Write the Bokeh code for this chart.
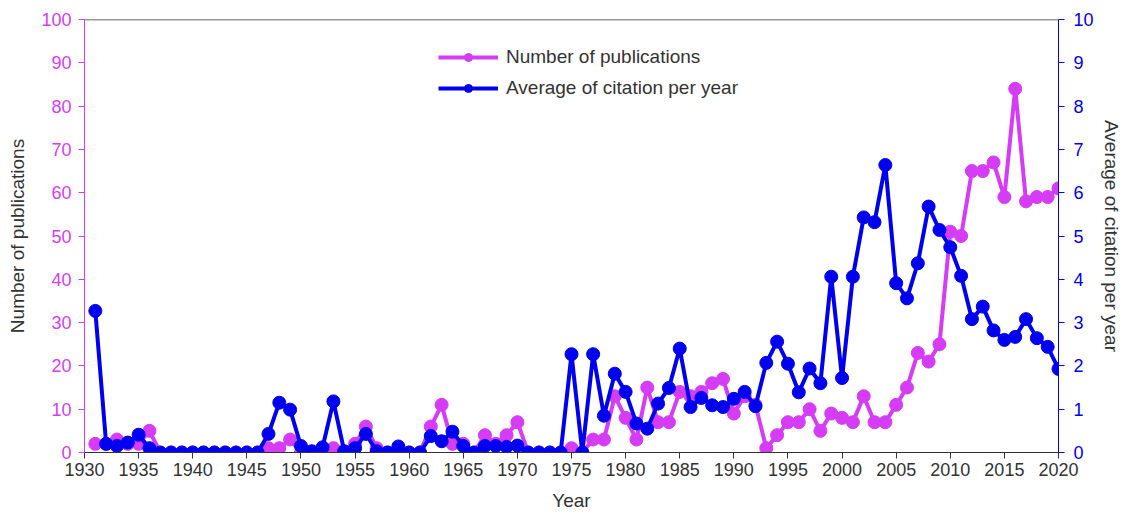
from bokeh.plotting import figure
from bokeh.models import Range1d, LinearAxis, FixedTicker, Legend, LegendItem, Span
from bokeh.embed import file_html
from bokeh.resources import INLINE

years = list(range(1931, 2021))
publications = [2, 2, 3, 2, 2, 5, 0, 0, 0, 0,
                0, 0, 0, 0, 0, 0, 1, 1, 3, 0,
                0, 0, 1, 0, 2, 6, 1, 0, 0, 0,
                0, 6, 11, 2, 2, 0, 4, 2, 4, 7,
                0, 0, 0, 0, 1, 0, 3, 3, 13, 8,
                3, 15, 7, 7, 14, 13, 14, 16, 17, 9,
                13, 11, 1, 4, 7, 7, 10, 5, 9, 8,
                7, 13, 7, 7, 11, 15, 23, 21, 25, 51,
                50, 65, 65, 67, 59, 84, 58, 59, 59, 61]
citations = [3.27, 0.2, 0.15, 0.23, 0.41, 0.1, 0, 0, 0, 0,
             0, 0, 0, 0, 0, 0, 0.43, 1.15, 0.99, 0.15,
             0.03, 0.12, 1.18, 0.03, 0.1, 0.43, 0.03, 0, 0.14, 0,
             0, 0.38, 0.26, 0.48, 0.15, 0, 0.15, 0.15, 0.13, 0.16,
             0, 0, 0, 0, 2.27, 0, 2.27, 0.85, 1.82, 1.4,
             0.67, 0.55, 1.13, 1.49, 2.4, 1.05, 1.26, 1.09, 1.05, 1.24,
             1.4, 1.07, 2.07, 2.56, 2.05, 1.39, 1.94, 1.6, 4.06, 1.72,
             4.06, 5.43, 5.32, 6.64, 3.91, 3.56, 4.37, 5.68, 5.14, 4.74,
             4.08, 3.08, 3.37, 2.82, 2.6, 2.67, 3.08, 2.64, 2.44, 1.93]
x_ticks = list(range(1930, 2021, 5))
pub_ticks = list(range(0, 101, 10))
cit_ticks = list(range(0, 11))

MAG = "#d63cf6"
BLUE = "#0000f0"
TXT = "#333333"
FONT = "Liberation Sans"
TICK_FS = "18px"
LAB_FS = "19px"

p = figure(width=1124, height=513, output_backend="svg", toolbar_location=None,
           x_range=Range1d(1930, 2020), y_range=Range1d(0, 100),
           min_border_left=84, min_border_right=64, min_border_top=19, min_border_bottom=60)
p.outline_line_color = None
p.xgrid.visible = False
p.ygrid.visible = False
p.extra_y_ranges = {"cit": Range1d(0, 10)}

# x axis
xa = p.xaxis[0]
xa.ticker = FixedTicker(ticks=x_ticks)
xa.minor_tick_line_color = None
xa.axis_line_color = TXT
xa.major_tick_line_color = TXT
xa.major_tick_out = 6
xa.major_tick_in = 0
xa.major_label_text_font = FONT
xa.major_label_text_font_size = TICK_FS
xa.major_label_text_color = TXT
xa.major_label_standoff = 4
xa.axis_label = "Year"
xa.axis_label_text_font = FONT
xa.axis_label_text_font_size = LAB_FS
xa.axis_label_text_font_style = "normal"
xa.axis_label_text_color = TXT
xa.axis_label_standoff = 11

# left axis
ya = p.yaxis[0]
ya.ticker = FixedTicker(ticks=pub_ticks)
ya.minor_tick_line_color = None
ya.axis_line_color = MAG
ya.major_tick_line_color = MAG
ya.major_tick_out = 6
ya.major_tick_in = 0
ya.major_label_text_font = FONT
ya.major_label_text_font_size = TICK_FS
ya.major_label_text_color = MAG
ya.major_label_standoff = 7
ya.axis_label = "Number of publications"
ya.axis_label_text_font = FONT
ya.axis_label_text_font_size = LAB_FS
ya.axis_label_text_font_style = "normal"
ya.axis_label_text_color = TXT
ya.axis_label_standoff = 10

# right axis
ra = LinearAxis(y_range_name="cit", ticker=FixedTicker(ticks=cit_ticks))
ra.minor_tick_line_color = None
ra.axis_line_color = BLUE
ra.major_tick_line_color = BLUE
ra.major_tick_out = 6
ra.major_tick_in = 0
ra.major_label_text_font = FONT
ra.major_label_text_font_size = TICK_FS
ra.major_label_text_color = BLUE
ra.major_label_standoff = 9
ra.axis_label = "Average of citation per year"
ra.axis_label_text_font = FONT
ra.axis_label_text_font_size = LAB_FS
ra.axis_label_text_font_style = "normal"
ra.axis_label_text_color = TXT
ra.axis_label_standoff = 4
p.add_layout(ra, "right")

p.add_layout(Span(location=100, dimension="width", line_color=TXT, line_width=1.5))

l1 = p.line(years, publications, line_color=MAG, line_width=4)
s1 = p.scatter(years, publications, size=13, fill_color=MAG, line_color=MAG)
l2 = p.line(years, citations, line_color=BLUE, line_width=4, y_range_name="cit")
s2 = p.scatter(years, citations, size=13, fill_color=BLUE, line_color=BLUE, y_range_name="cit")

legend = Legend(items=[
    LegendItem(label="Number of publications", renderers=[l1, s1]),
    LegendItem(label="Average of citation per year", renderers=[l2, s2]),
], location=(354, 353))
legend.border_line_color = None
legend.background_fill_alpha = 0
legend.label_text_font = FONT
legend.label_text_font_size = LAB_FS
legend.label_text_color = TXT
legend.label_standoff = 8
legend.glyph_width = 60
legend.glyph_height = 20
legend.spacing = 9
legend.padding = 6
legend.margin = 0
p.add_layout(legend, "center")

open("out.html", "w").write(file_html(p, INLINE))
